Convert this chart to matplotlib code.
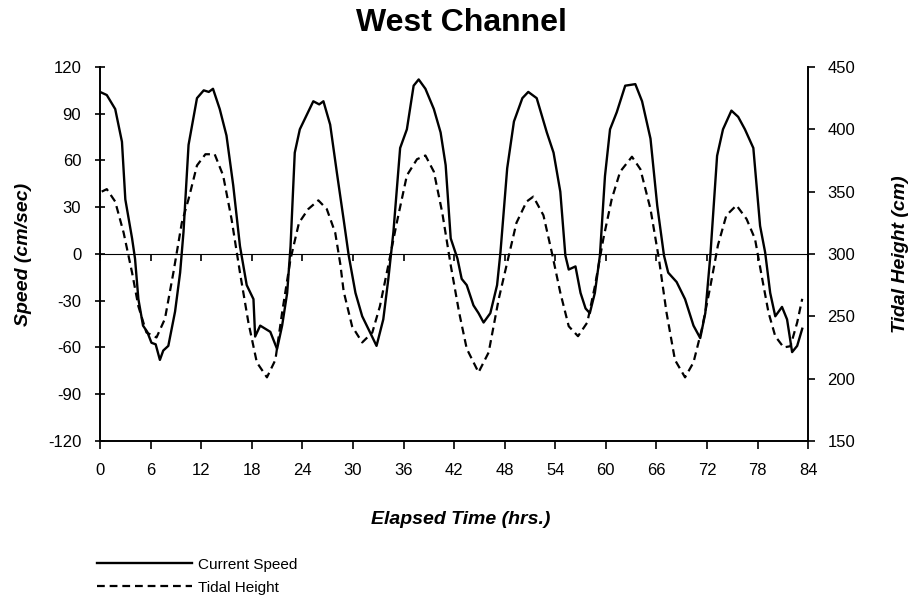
import numpy as np
import matplotlib.pyplot as plt

# values
speed_t = [0.0, 0.8, 1.8, 2.6, 3.0, 3.8, 4.15, 4.55, 5.1, 5.6, 6.1, 6.6, 7.1, 7.5, 8.1,
           8.9, 9.5, 9.9, 10.5, 11.5, 12.3, 12.9, 13.4, 14.2, 15.0, 15.8, 16.6, 17.4,
           18.2, 18.4, 19.0, 20.2, 21.0, 21.6, 22.2, 22.6, 23.1, 23.7, 24.5, 25.3,
           26.0, 26.5, 27.3, 28.1, 28.9, 29.5, 30.3, 31.1, 32.0, 32.8, 33.6, 34.2,
           34.8, 35.6, 36.4, 37.2, 37.8, 38.6, 39.6, 40.4, 41.0, 41.6, 42.4, 42.9,
           43.5, 44.3, 44.9, 45.5, 46.3, 47.1, 47.5, 48.3, 49.1, 50.1, 50.8, 51.8,
           53.0, 53.8, 54.6, 55.2, 55.6, 56.4, 57.0, 57.6, 58.1, 58.7, 59.3, 59.9,
           60.5, 61.3, 62.3, 63.5, 64.3, 65.3, 66.1, 66.9, 67.4, 68.4, 69.4, 70.4,
           71.2, 71.8, 72.4, 73.2, 73.9, 74.9, 75.7, 76.5, 77.5, 78.3, 78.9, 79.5,
           80.1, 80.9, 81.5, 82.1, 82.7, 83.3]
speed = [104, 102, 93, 72, 35, 10, -3, -29, -46, -50, -57, -58, -68, -62, -59,
         -37, -12, 14, 70, 100, 105, 104, 106, 93, 76, 44, 5, -20,
         -29, -53, -46, -50, -61, -46, -25, 5, 65, 80, 89, 98,
         96, 98, 83, 52, 22, -1, -25, -40, -50, -59, -42, -16,
         14, 68, 80, 108, 112, 106, 93, 78, 57, 10, -3, -16,
         -20, -33, -38, -44, -38, -20, 1, 55, 85, 100, 104, 100,
         78, 65, 40, -1, -10, -8, -25, -35, -38, -25, -1, 50,
         80, 91, 108, 109, 98, 74, 31, -1, -12, -18, -29, -46,
         -54, -38, -1, 63, 80, 92, 88, 80, 68, 18, 1, -25,
         -40, -34, -42, -63, -59, -48]

tide_t = [0.2, 0.8, 1.8, 2.8, 3.8, 4.55, 5.5, 6.7, 7.7, 8.7, 9.7, 10.5, 11.5, 12.5,
          13.6, 14.6, 15.6, 16.6, 17.6, 18.6, 19.8, 20.8, 21.6, 22.6, 23.6, 24.7,
          25.9, 26.9, 27.9, 28.5, 28.9, 29.9, 31.1, 32.3, 33.2, 34.2, 35.2, 36.4,
          37.6, 38.6, 39.6, 40.6, 41.6, 42.6, 43.5, 44.9, 46.1, 47.3, 48.4, 49.4,
          50.6, 51.4, 52.6, 53.6, 54.6, 55.6, 56.7, 57.8, 58.7, 59.7, 60.7, 61.7,
          63.1, 64.1, 65.3, 66.3, 67.2, 68.2, 69.4, 70.4, 71.4, 72.4, 73.3, 74.3,
          75.5, 76.7, 77.7, 78.5, 79.3, 80.1, 81.1, 81.9, 82.7, 83.3]
tide = [350, 352, 342, 317, 285, 258, 237, 233, 248, 285, 325, 344, 371, 380,
        380, 363, 328, 285, 245, 213, 201, 215, 253, 296, 325, 336,
        343, 336, 317, 292, 270, 242, 229, 237, 258, 291, 325, 363,
        376, 379, 366, 333, 291, 253, 224, 205, 221, 264, 296, 325,
        342, 346, 331, 301, 269, 242, 234, 245, 274, 312, 344, 366,
        378, 368, 336, 296, 253, 215, 201, 213, 240, 274, 307, 331,
        339, 328, 312, 282, 253, 234, 225, 226, 245, 264]

plt.rcParams['font.family'] = ['Liberation Sans', 'DejaVu Sans']
plt.rcParams['axes.unicode_minus'] = False

fig = plt.figure(figsize=(9.22, 6.09), dpi=100)
ax = fig.add_axes([0.1085, 0.276, 0.768, 0.614])

l1, = ax.plot(speed_t, speed, color='black', lw=1.7, label='Current Speed')
ax.set_xlim(0, 84)
ax.set_ylim(-120, 120)
ax.set_xticks(np.arange(0, 85, 6))
ax.set_yticks(np.arange(-120, 121, 30))
ax.spines['top'].set_visible(False)
ax.spines['right'].set_visible(False)
for s in ['left', 'bottom']:
    ax.spines[s].set_linewidth(1.4)
ax.tick_params(axis='y', direction='inout', length=7, width=1.2, pad=10, labelsize=12)
ax.tick_params(axis='x', direction='out', length=6, width=1.2, pad=10, labelsize=12)

# zero line with its own ticks
zero = ax.secondary_xaxis(0.5)
zero.set_xticks(np.arange(0, 85, 6))
zero.xaxis.set_ticks_position('bottom')
zero.tick_params(direction='out', length=5, width=1.2, labelbottom=False)
zero.spines['bottom'].set_linewidth(1.2)

ax2 = ax.twinx()
l2, = ax2.plot(tide_t, tide, color='black', lw=1.6, ls=(0, (3.5, 2.2)), label='Tidal Height')
ax2.set_ylim(150, 450)
ax2.set_yticks(np.arange(150, 451, 50))
ax2.spines['top'].set_visible(False)
ax2.spines['left'].set_visible(False)
ax2.spines['bottom'].set_visible(False)
ax2.spines['right'].set_linewidth(1.4)
ax2.tick_params(axis='y', direction='out', length=5, width=1.2, pad=9, labelsize=12)

fig.text(0.5, 0.962, 'West Channel', ha='center', va='center', fontsize=23, fontweight='bold')
fig.text(0.5, 0.147, 'Elapsed Time (hrs.)', ha='center', va='center', fontsize=14,
         fontweight='bold', style='italic')
fig.text(0.025, 0.583, 'Speed (cm/sec)', ha='center', va='center', rotation=90, fontsize=14,
         fontweight='bold', style='italic')
fig.text(0.977, 0.583, 'Tidal Height (cm)', ha='center', va='center', rotation=90, fontsize=14,
         fontweight='bold', style='italic')

fig.legend(handles=[l1, l2], loc='upper left', bbox_to_anchor=(0.097, 0.097), frameon=False,
           fontsize=11, handlelength=6.2, handletextpad=0.4, labelspacing=0.6, borderpad=0)

fig.savefig('out.png', dpi=100)
